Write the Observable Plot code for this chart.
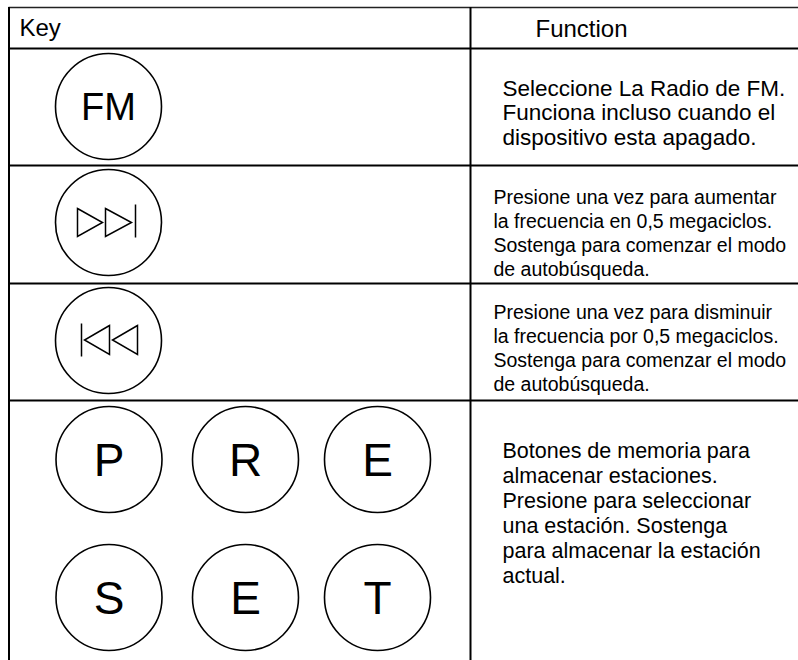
<!DOCTYPE html>
<html>
<head>
<meta charset="utf-8">
<script src="https://cdn.jsdelivr.net/npm/d3@7"></script>
<script src="https://cdn.jsdelivr.net/npm/@observablehq/plot@0.6"></script>
<style>
  html, body { margin: 0; padding: 0; background: #fff; }
  #chart svg { display: block; }
</style>
</head>
<body>
<div id="chart"></div>
<script>
// ---------- content ----------
const headers = ["Key", "Function"];
const rowKeys = ["FM", "skip-forward", "skip-back", "PRESET"];
const presetLetters = ["P", "R", "E", "S", "E", "T"];
const functionTexts = [
  "Seleccione La Radio de FM.\nFunciona incluso cuando el\ndispositivo esta apagado.",
  "Presione una vez para aumentar\nla frecuencia en 0,5 megaciclos.\nSostenga para comenzar el modo\nde autobúsqueda.",
  "Presione una vez para disminuir\nla frecuencia por 0,5 megaciclos.\nSostenga para comenzar el modo\nde autobúsqueda.",
  "Botones de memoria para\nalmacenar estaciones.\nPresione para seleccionar\nuna estación. Sostenga\npara almacenar la estación\nactual."
];

// ---------- layout ----------
const W = 798, H = 660;
const tableLeft = 8.5, tableTop = 7;
const topRule = [tableTop];
const rowRules = [48, 165, 283, 400];
const colRules = [tableLeft, 470];
const headerPos = [{x: 19, y: 35}, {x: 535, y: 36}];
const circleR = 53;
const singleKeyCenters = [{x: 108, y: 106}, {x: 108, y: 222}, {x: 108, y: 340}];
const presetCols = [108.5, 245, 377];
const presetRows = [459, 597];
const textStyle = [
  {x: 502, base: 94, fs: 22.5, lh: 24.5},
  {x: 493, base: 200, fs: 19.5, lh: 24},
  {x: 493, base: 315, fs: 19.5, lh: 24},
  {x: 502, base: 455, fs: 21.5, lh: 25}
];

// custom outline symbols (drawn in px units for r = 14)
function polyPath(ctx, s, pts, close) {
  ctx.moveTo(pts[0][0] * s, pts[0][1] * s);
  for (let i = 1; i < pts.length; i++) ctx.lineTo(pts[i][0] * s, pts[i][1] * s);
  if (close) ctx.closePath();
}
const skipForward = {
  draw(ctx, size) {
    const s = Math.sqrt(size / Math.PI) / 14;
    polyPath(ctx, s, [[-31, -14], [-6, 0], [-31, 14]], true);
    polyPath(ctx, s, [[-3, -14], [23, 0], [-3, 14]], true);
    polyPath(ctx, s, [[27, -18], [27, 15]], false);
  }
};
const skipBack = {
  draw(ctx, size) {
    const s = Math.sqrt(size / Math.PI) / 14;
    polyPath(ctx, s, [[-27, -17], [-27, 16]], false);
    polyPath(ctx, s, [[1, -15], [-24, -0.5], [1, 14]], true);
    polyPath(ctx, s, [[29, -15], [4, -0.5], [29, 14]], true);
  }
};

// ---------- derived tables ----------
const headerData = headers.map((t, i) => ({text: t, ...headerPos[i]}));
const circles = [
  ...singleKeyCenters.map((c, i) => ({...c, key: rowKeys[i]})),
  ...presetLetters.map((l, i) => ({x: presetCols[i % 3], y: presetRows[Math.floor(i / 3)], key: l}))
];
const letterData = [
  {x: singleKeyCenters[0].x, y: singleKeyCenters[0].y, text: rowKeys[0], fs: 38},
  ...presetLetters.map((l, i) => ({x: presetCols[i % 3], y: presetRows[Math.floor(i / 3)], text: l, fs: 46}))
];

const fontFamily = "'Liberation Sans', Arial, Helvetica, sans-serif";

const chart = Plot.plot({
  width: W,
  height: H,
  margin: 0,
  x: {domain: [0, W], range: [0, W], axis: null},
  y: {domain: [0, H], range: [0, H], axis: null},
  style: {fontFamily, background: "#fff", color: "#000"},
  marks: [
    Plot.ruleY(topRule, {x1: tableLeft, x2: W, stroke: "#222", strokeWidth: 1.6}),
    Plot.ruleY(rowRules, {x1: tableLeft, x2: W, stroke: "#000", strokeWidth: 2.2}),
    Plot.ruleX(colRules, {y1: tableTop, y2: H, stroke: "#000", strokeWidth: 2}),
    Plot.text(headerData, {x: "x", y: "y", text: "text", fontSize: 24, textAnchor: "start", lineAnchor: "bottom", fill: "#000"}),
    Plot.dot(circles, {x: "x", y: "y", r: circleR, stroke: "#000", strokeWidth: 1.6, fill: "none"}),
    Plot.text(letterData, {x: "x", y: d => d.y + 0.358 * d.fs, text: "text", fontSize: "fs", textAnchor: "middle", lineAnchor: "bottom", fill: "#000"}),
    Plot.dot([singleKeyCenters[1]], {x: "x", y: "y", r: 14, symbol: skipForward, stroke: "#000", strokeWidth: 1.5, fill: "none"}),
    Plot.dot([singleKeyCenters[2]], {x: "x", y: "y", r: 14, symbol: skipBack, stroke: "#000", strokeWidth: 1.5, fill: "none"}),
    ...functionTexts.map((t, i) => {
      const st = textStyle[i];
      return Plot.text([{x: st.x, y: st.base - 0.71 * st.fs, text: t}], {
        x: "x", y: "y", text: "text", fontSize: st.fs, lineHeight: st.lh / st.fs,
        textAnchor: "start", lineAnchor: "top", fill: "#000"
      });
    })
  ]
});
document.getElementById("chart").append(chart);
</script>
</body>
</html>
